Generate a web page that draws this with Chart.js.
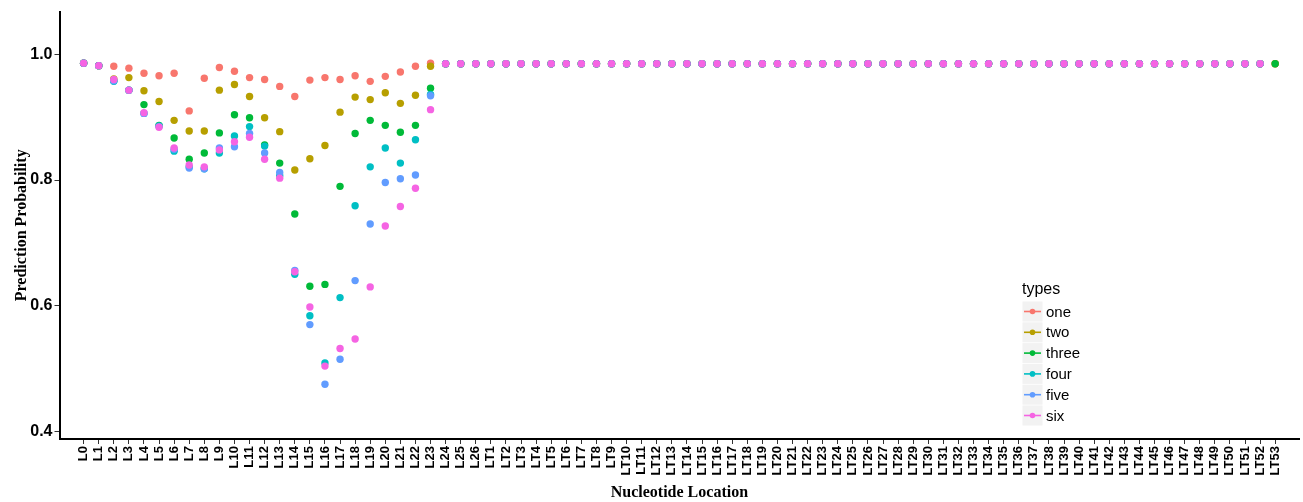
<!DOCTYPE html>
<html>
<head>
<meta charset="utf-8">
<script src="https://cdn.jsdelivr.net/npm/chart.js@4/dist/chart.umd.min.js"></script>
<style>
  html, body { margin: 0; padding: 0; background: #fff; }
  #wrap { width: 1303px; height: 502px; }
</style>
</head>
<body>
<div id="wrap"><canvas id="chart" width="1303" height="502"></canvas></div>
<script>
// Nucleotide positions along the x axis
const categories = [
  'L0','L1','L2','L3','L4','L5','L6','L7','L8','L9','L10','L11','L12','L13','L14','L15','L16','L17','L18','L19','L20','L21','L22','L23','L24','L25','L26',
  'LT1','LT2','LT3','LT4','LT5','LT6','LT7','LT8','LT9','LT10','LT11','LT12','LT13','LT14','LT15','LT16','LT17','LT18','LT19','LT20','LT21','LT22','LT23','LT24','LT25','LT26','LT27',
  'LT28','LT29','LT30','LT31','LT32','LT33','LT34','LT35','LT36','LT37','LT38','LT39','LT40','LT41','LT42','LT43','LT44','LT45','LT46','LT47','LT48','LT49','LT50','LT51','LT52','LT53'
];

const typeNames = ['one', 'two', 'three', 'four', 'five', 'six'];

const one = [
  0.986,0.982,0.981,0.978,0.970,0.966,0.970,0.910,0.962,0.979,0.973,0.963,0.960,0.949,0.933,0.959,0.963,0.960,0.966,0.957,0.965,0.972,0.981,0.986,
  0.985,0.985,0.985,0.985,0.985,0.985,0.985,0.985,0.985,0.985,0.985,0.985,0.985,0.985,
  0.985,0.985,0.985,0.985,0.985,0.985,0.985,0.985,0.985,0.985,0.985,0.985,0.985,0.985,
  0.985,0.985,0.985,0.985,0.985,0.985,0.985,0.985,0.985,0.985,0.985,0.985,0.985,0.985,
  0.985,0.985,0.985,0.985,0.985,0.985,0.985,0.985,0.985,0.985,0.985,0.985,0.985,0.985
];
const two = [
  0.986,0.982,0.961,0.963,0.942,0.925,0.895,0.878,0.878,0.943,0.952,0.933,0.899,0.877,0.816,0.834,0.855,0.908,0.932,0.928,0.939,0.922,0.935,0.981,
  0.985,0.985,0.985,0.985,0.985,0.985,0.985,0.985,0.985,0.985,0.985,0.985,0.985,0.985,
  0.985,0.985,0.985,0.985,0.985,0.985,0.985,0.985,0.985,0.985,0.985,0.985,0.985,0.985,
  0.985,0.985,0.985,0.985,0.985,0.985,0.985,0.985,0.985,0.985,0.985,0.985,0.985,0.985,
  0.985,0.985,0.985,0.985,0.985,0.985,0.985,0.985,0.985,0.985,0.985,0.985,0.985,0.985
];
const three = [
  0.986,0.982,0.958,0.943,0.920,0.887,0.867,0.833,0.843,0.875,0.904,0.899,0.856,0.827,0.746,0.631,0.634,0.790,0.874,0.895,0.887,0.876,0.887,0.946,
  0.985,0.985,0.985,0.985,0.985,0.985,0.985,0.985,0.985,0.985,0.985,0.985,0.985,0.985,
  0.985,0.985,0.985,0.985,0.985,0.985,0.985,0.985,0.985,0.985,0.985,0.985,0.985,0.985,
  0.985,0.985,0.985,0.985,0.985,0.985,0.985,0.985,0.985,0.985,0.985,0.985,0.985,0.985,
  0.985,0.985,0.985,0.985,0.985,0.985,0.985,0.985,0.985,0.985,0.985,0.985,0.985,0.985
];
const four = [
  0.986,0.982,0.957,0.943,0.906,0.886,0.846,0.821,0.818,0.843,0.870,0.885,0.854,0.807,0.650,0.584,0.509,0.613,0.759,0.821,0.851,0.827,0.864,0.936,
  0.985,0.985,0.985,0.985,0.985,0.985,0.985,0.985,0.985,0.985,0.985,0.985,0.985,0.985,
  0.985,0.985,0.985,0.985,0.985,0.985,0.985,0.985,0.985,0.985,0.985,0.985,0.985,0.985,
  0.985,0.985,0.985,0.985,0.985,0.985,0.985,0.985,0.985,0.985,0.985,0.985,0.985,0.985,
  0.985,0.985,0.985,0.985,0.985,0.985,0.985,0.985,0.985,0.985,0.985,0.985,0.985,null
];
const five = [
  0.986,0.982,0.958,0.943,0.906,0.885,0.849,0.819,0.818,0.851,0.853,0.874,0.843,0.812,0.656,0.570,0.475,0.515,0.640,0.730,0.796,0.802,0.808,0.934,
  0.985,0.985,0.985,0.985,0.985,0.985,0.985,0.985,0.985,0.985,0.985,0.985,0.985,0.985,
  0.985,0.985,0.985,0.985,0.985,0.985,0.985,0.985,0.985,0.985,0.985,0.985,0.985,0.985,
  0.985,0.985,0.985,0.985,0.985,0.985,0.985,0.985,0.985,0.985,0.985,0.985,0.985,0.985,
  0.985,0.985,0.985,0.985,0.985,0.985,0.985,0.985,0.985,0.985,0.985,0.985,0.985,null
];
const six = [
  0.986,0.982,0.960,0.943,0.907,0.884,0.851,0.824,0.821,0.848,0.861,0.868,0.833,0.803,0.654,0.598,0.504,0.532,0.547,0.630,0.727,0.758,0.787,0.912,
  0.985,0.985,0.985,0.985,0.985,0.985,0.985,0.985,0.985,0.985,0.985,0.985,0.985,0.985,
  0.985,0.985,0.985,0.985,0.985,0.985,0.985,0.985,0.985,0.985,0.985,0.985,0.985,0.985,
  0.985,0.985,0.985,0.985,0.985,0.985,0.985,0.985,0.985,0.985,0.985,0.985,0.985,0.985,
  0.985,0.985,0.985,0.985,0.985,0.985,0.985,0.985,0.985,0.985,0.985,0.985,0.985,null
];

const yTickValues = [0.4, 0.6, 0.8, 1.0];

const seriesValues = [one, two, three, four, five, six];
const palette = ['#F8766D', '#B79F00', '#00BA38', '#00BFC4', '#619CFF', '#F564E3'];

// Later types are painted over earlier ones
const datasets = typeNames.map((name, k) => ({
  label: name,
  order: typeNames.length - k,
  data: seriesValues[k].map((v, i) => ({ x: i, y: v })).filter(p => p.y !== null),
  backgroundColor: palette[k],
  borderColor: palette[k],
  pointRadius: 3.7,
  pointBorderWidth: 0,
  pointHoverRadius: 3.7,
  showLine: false
}));

// Legend panel with grey key boxes, a line segment and a dot per type
const typesLegend = {
  id: 'typesLegend',
  afterDraw(chart) {
    const ctx = chart.ctx;
    ctx.save();
    const x0 = 1022;
    ctx.fillStyle = '#000';
    ctx.font = '16px "Liberation Sans", Arial, sans-serif';
    ctx.textBaseline = 'middle';
    ctx.textAlign = 'left';
    ctx.fillText('types', x0, 290);
    chart.data.datasets.forEach((ds, i) => {
      const cy = 311.5 + i * 20.8;
      ctx.fillStyle = '#F2F2F2';
      ctx.fillRect(x0 + 0.5, cy - 10, 20, 20);
      ctx.strokeStyle = ds.borderColor;
      ctx.lineWidth = 1.6;
      ctx.beginPath();
      ctx.moveTo(x0 + 2, cy);
      ctx.lineTo(x0 + 19, cy);
      ctx.stroke();
      ctx.fillStyle = ds.backgroundColor;
      ctx.beginPath();
      ctx.arc(x0 + 10.5, cy, 2.8, 0, Math.PI * 2);
      ctx.fill();
      ctx.fillStyle = '#000';
      ctx.font = '15px "Liberation Sans", Arial, sans-serif';
      ctx.fillText(ds.label, x0 + 24, cy + 1);
    });
    ctx.restore();
  }
};

new Chart(document.getElementById('chart'), {
  type: 'scatter',
  data: { datasets },
  plugins: [typesLegend],
  options: {
    responsive: false,
    animation: false,
    events: [],
    layout: { padding: { left: 0, right: 3, top: 11, bottom: 0 } },
    plugins: {
      legend: { display: false },
      tooltip: { enabled: false }
    },
    scales: {
      x: {
        type: 'linear',
        min: -1.6,
        max: 80.6,
        afterBuildTicks(scale) {
          scale.ticks = categories.map((_, i) => ({ value: i }));
        },
        afterFit(scale) { scale.height = 63; },
        ticks: {
          autoSkip: false,
          minRotation: 90,
          maxRotation: 90,
          padding: 2,
          color: '#000',
          font: { family: '"Liberation Sans", Arial, sans-serif', size: 13, weight: 'bold' },
          callback: (v) => categories[v]
        },
        grid: { drawOnChartArea: false, drawTicks: true, tickLength: 5, color: '#333', lineWidth: 1 },
        border: { display: true, color: '#000', width: 2 },
        title: {
          display: true,
          text: 'Nucleotide Location',
          color: '#000',
          padding: { top: 0, bottom: 0 },
          font: { family: '"Liberation Serif", "Times New Roman", serif', size: 16, weight: 'bold' }
        }
      },
      y: {
        min: 0.388,
        max: 1.068,
        afterBuildTicks(scale) {
          scale.ticks = yTickValues.map(v => ({ value: v }));
        },
        afterFit(scale) { scale.width = 59.5; },
        ticks: {
          padding: 2,
          color: '#000',
          font: { family: '"Liberation Sans", Arial, sans-serif', size: 16, weight: 'bold' },
          callback: (v) => Number(v).toFixed(1)
        },
        grid: { drawOnChartArea: false, drawTicks: true, tickLength: 5, color: '#333', lineWidth: 1 },
        border: { display: true, color: '#000', width: 2 },
        title: {
          display: true,
          text: 'Prediction Probability',
          color: '#000',
          padding: { top: 12, bottom: 10 },
          font: { family: '"Liberation Serif", "Times New Roman", serif', size: 16, weight: 'bold' }
        }
      }
    }
  }
});
</script>
</body>
</html>
